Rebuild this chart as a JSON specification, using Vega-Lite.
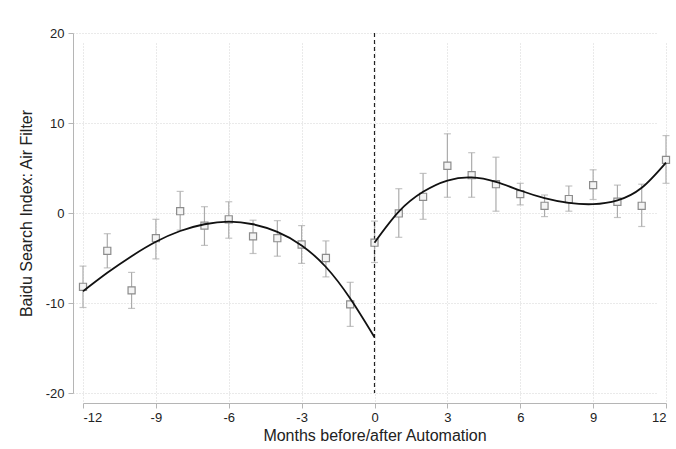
{
  "$schema": "https://vega.github.io/schema/vega-lite/v6.json",
  "width": 583,
  "height": 360,
  "autosize": "none",
  "padding": {"left": 83, "top": 33, "right": 10, "bottom": 56},
  "background": "white",
  "config": {
    "view": {"stroke": null},
    "font": "Liberation Sans",
    "axis": {
      "domainColor": "#b5b5b5",
      "tickColor": "#b5b5b5",
      "tickSize": 5,
      "labelColor": "#222222",
      "labelFontSize": 13,
      "titleFontSize": 16,
      "titleFontWeight": "normal",
      "titleColor": "#222222",
      "gridColor": "#d4d4d4",
      "gridDash": [1, 2],
      "gridWidth": 1,
      "offset": 10,
      "labelExpr": "toString(datum.value)"
    }
  },
  "datasets": {
    "pts": [
      {"m": -12, "est": -8.2, "lo": -10.5, "hi": -5.9},
      {"m": -11, "est": -4.2, "lo": -6.1, "hi": -2.3},
      {"m": -10, "est": -8.6, "lo": -10.6, "hi": -6.6},
      {"m": -9, "est": -2.8, "lo": -5.1, "hi": -0.7},
      {"m": -8, "est": 0.2, "lo": -1.9, "hi": 2.4},
      {"m": -7, "est": -1.4, "lo": -3.6, "hi": 0.7},
      {"m": -6, "est": -0.7, "lo": -2.8, "hi": 1.25},
      {"m": -5, "est": -2.6, "lo": -4.5, "hi": -0.8},
      {"m": -4, "est": -2.8, "lo": -4.8, "hi": -0.85},
      {"m": -3, "est": -3.5, "lo": -5.6, "hi": -1.4},
      {"m": -2, "est": -5.0, "lo": -7.1, "hi": -3.1},
      {"m": -1, "est": -10.15, "lo": -12.6, "hi": -7.7},
      {"m": 0, "est": -3.3, "lo": -5.5, "hi": -0.9},
      {"m": 1, "est": -0.05, "lo": -2.7, "hi": 2.7},
      {"m": 2, "est": 1.8, "lo": -0.7, "hi": 4.4},
      {"m": 3, "est": 5.25, "lo": 1.75, "hi": 8.8},
      {"m": 4, "est": 4.2, "lo": 1.75, "hi": 6.7},
      {"m": 5, "est": 3.2, "lo": 0.2, "hi": 6.2},
      {"m": 6, "est": 2.1, "lo": 0.9, "hi": 3.3},
      {"m": 7, "est": 0.8, "lo": -0.4, "hi": 2.0},
      {"m": 8, "est": 1.55, "lo": 0.2, "hi": 3.0},
      {"m": 9, "est": 3.1, "lo": 1.5, "hi": 4.8},
      {"m": 10, "est": 1.25, "lo": -0.5, "hi": 3.1},
      {"m": 11, "est": 0.8, "lo": -1.5, "hi": 3.2},
      {"m": 12, "est": 5.9, "lo": 3.3, "hi": 8.6}
    ],
    "fit": [
      {"m": -12, "f": -8.7, "seg": "pre"},
      {"m": -11, "f": -6.65, "seg": "pre"},
      {"m": -10, "f": -4.8, "seg": "pre"},
      {"m": -9, "f": -3.2, "seg": "pre"},
      {"m": -8, "f": -2.0, "seg": "pre"},
      {"m": -7, "f": -1.25, "seg": "pre"},
      {"m": -6, "f": -0.95, "seg": "pre"},
      {"m": -5, "f": -1.25, "seg": "pre"},
      {"m": -4, "f": -2.1, "seg": "pre"},
      {"m": -3, "f": -3.6, "seg": "pre"},
      {"m": -2, "f": -6.0, "seg": "pre"},
      {"m": -1, "f": -9.5, "seg": "pre"},
      {"m": 0, "f": -13.8, "seg": "pre"},
      {"m": 0, "f": -3.3, "seg": "post"},
      {"m": 1, "f": 0.15, "seg": "post"},
      {"m": 2, "f": 2.35, "seg": "post"},
      {"m": 3, "f": 3.6, "seg": "post"},
      {"m": 4, "f": 3.95, "seg": "post"},
      {"m": 5, "f": 3.45, "seg": "post"},
      {"m": 6, "f": 2.5, "seg": "post"},
      {"m": 7, "f": 1.65, "seg": "post"},
      {"m": 8, "f": 1.12, "seg": "post"},
      {"m": 9, "f": 0.98, "seg": "post"},
      {"m": 10, "f": 1.4, "seg": "post"},
      {"m": 11, "f": 2.8, "seg": "post"},
      {"m": 12, "f": 5.6, "seg": "post"}
    ],
    "vline": [{"m": 0}]
  },
  "layer": [
    {
      "data": {"name": "pts"},
      "mark": {"type": "rule", "color": "#ababab", "strokeWidth": 1.2},
      "encoding": {
        "x": {"field": "m", "type": "quantitative",
          "scale": {"domain": [-12, 12], "nice": false, "zero": false},
          "axis": {"values": [-12, -9, -6, -3, 0, 3, 6, 9, 12], "title": "Months before/after Automation", "labelPadding": 3, "titlePadding": 3, "grid": true}},
        "y": {"field": "lo", "type": "quantitative",
          "scale": {"domain": [-20, 20], "nice": false, "zero": false},
          "axis": {"values": [-20, -10, 0, 10, 20], "title": "Baidu Search Index: Air Filter", "labelPadding": 4, "titlePadding": 11, "grid": true}},
        "y2": {"field": "hi"}
      }
    },
    {
      "data": {"name": "pts"},
      "mark": {"type": "tick", "orient": "horizontal", "color": "#ababab", "size": 7, "thickness": 1.2},
      "encoding": {
        "x": {"field": "m", "type": "quantitative"},
        "y": {"field": "lo", "type": "quantitative"}
      }
    },
    {
      "data": {"name": "pts"},
      "mark": {"type": "tick", "orient": "horizontal", "color": "#ababab", "size": 7, "thickness": 1.2},
      "encoding": {
        "x": {"field": "m", "type": "quantitative"},
        "y": {"field": "hi", "type": "quantitative"}
      }
    },
    {
      "data": {"name": "vline"},
      "mark": {"type": "rule", "color": "#222222", "strokeDash": [4, 3], "strokeWidth": 1.2},
      "encoding": {
        "x": {"field": "m", "type": "quantitative"}
      }
    },
    {
      "data": {"name": "pts"},
      "mark": {"type": "point", "shape": "square", "size": 50, "filled": true, "fill": "#f4f4f4", "stroke": "#8c8c8c", "strokeWidth": 1.2, "opacity": 1},
      "encoding": {
        "x": {"field": "m", "type": "quantitative"},
        "y": {"field": "est", "type": "quantitative"}
      }
    },
    {
      "data": {"name": "fit"},
      "mark": {"type": "line", "color": "#111111", "strokeWidth": 1.8, "interpolate": "natural"},
      "encoding": {
        "x": {"field": "m", "type": "quantitative"},
        "y": {"field": "f", "type": "quantitative"},
        "detail": {"field": "seg"}
      }
    }
  ]
}
